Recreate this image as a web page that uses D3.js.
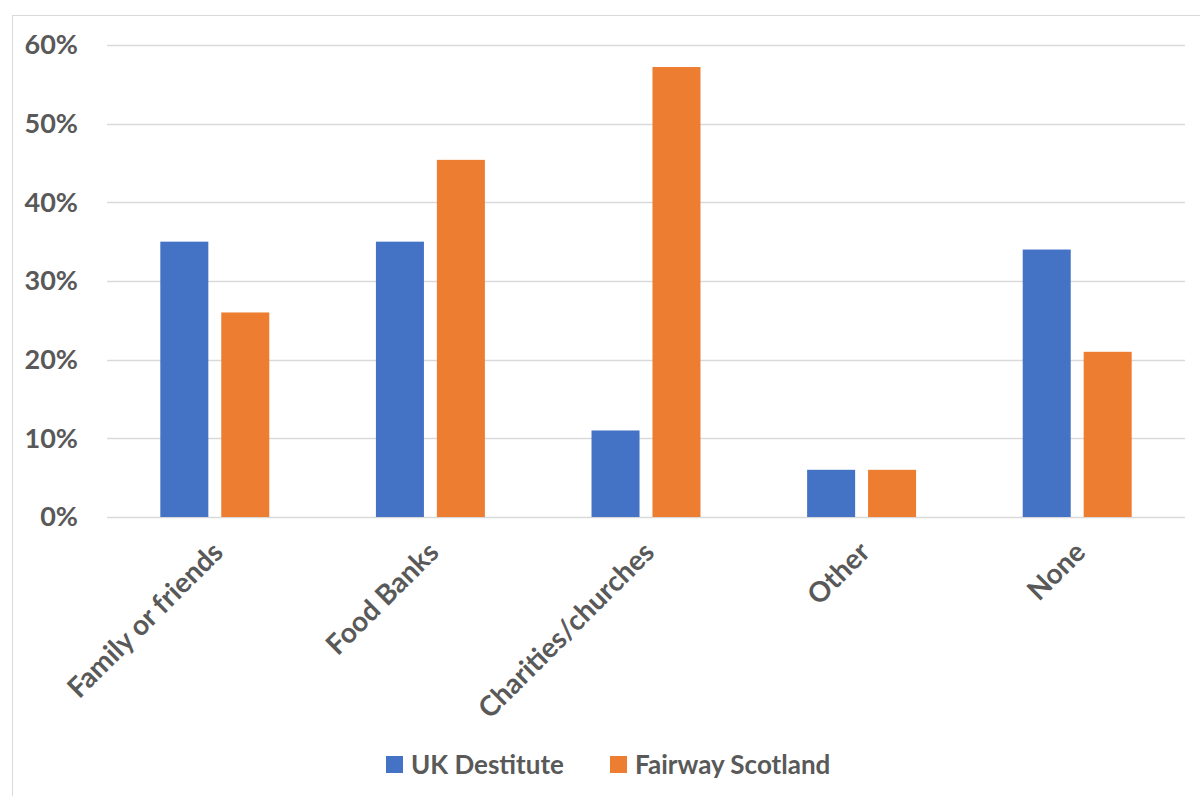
<!DOCTYPE html>
<html><head><meta charset="utf-8">
<script src="https://cdn.jsdelivr.net/npm/d3@7/dist/d3.min.js"></script>
<style>body{margin:0;background:#fff;}svg{display:block;}</style>
</head><body>
<script>
const categories = ["Family or friends", "Food Banks", "Charities/churches", "Other", "None"];
const seriesNames = ["UK Destitute", "Fairway Scotland"];
const ukDestitute = [0.35, 0.35, 0.11, 0.06, 0.34];
const fairwayScotland = [0.26, 0.454, 0.572, 0.06, 0.21];
const yTicks = [0, 0.1, 0.2, 0.3, 0.4, 0.5, 0.6];
const colors = ["#4472C4", "#ED7D31"];

const W = 1200, H = 796;
const font = "Lato, 'Open Sans', sans-serif";
const textColor = "#595959";
const svg = d3.select("body").append("svg").attr("width", W).attr("height", H);
svg.append("rect").attr("x", 0).attr("y", 0).attr("width", W).attr("height", H).attr("fill", "#fff");
// chart border
svg.append("rect").attr("x", 12.5).attr("y", 15.5).attr("width", 1200).attr("height", 800)
  .attr("fill", "none").attr("stroke", "#d9d9d9").attr("stroke-width", 1);

const plot = {left: 107, right: 1185, top: 45, bottom: 517};
const x = d3.scaleBand().domain(categories).range([plot.left, plot.right]).paddingInner(0).paddingOuter(0);
const y = d3.scaleLinear().domain([0, 0.6]).range([plot.bottom, plot.top]);
const bw = x.bandwidth();
const barW = bw * 0.2227, gap = bw * 0.06;
const xs = d3.scaleBand().domain(seriesNames).range([0, barW * 2 + gap]).paddingInner(gap / (barW + gap)).paddingOuter(0);
const groupOffset = (bw - (barW * 2 + gap)) / 2;

// gridlines
svg.append("g").selectAll("line").data(yTicks).join("line")
  .attr("x1", plot.left).attr("x2", plot.right)
  .attr("y1", d => Math.round(y(d)) + 0.5).attr("y2", d => Math.round(y(d)) + 0.5)
  .attr("stroke", "#d9d9d9").attr("stroke-width", 1.5);

// y labels
svg.append("g").selectAll("text").data(yTicks).join("text")
  .attr("x", 78).attr("y", d => y(d)).attr("dy", "0.35em")
  .attr("text-anchor", "end").attr("font-family", font).attr("font-weight", 700)
  .attr("font-size", 27).attr("fill", textColor)
  .text(d => d3.format(".0%")(d));

const data = [ukDestitute, fairwayScotland];
data.forEach((vals, si) => {
  svg.append("g").selectAll("rect").data(vals).join("rect")
    .attr("x", (d, i) => x(categories[i]) + groupOffset + xs(seriesNames[si]))
    .attr("width", xs.bandwidth())
    .attr("y", d => y(d)).attr("height", d => y(0) - y(d))
    .attr("fill", colors[si]);
});

// category labels
svg.append("g").selectAll("text").data(categories).join("text")
  .attr("transform", d => `translate(${x(d) + bw / 2 + 3},${plot.bottom + 30}) rotate(-45)`)
  .attr("text-anchor", "end").attr("font-family", font).attr("font-weight", 700)
  .attr("font-size", 28).attr("fill", textColor).attr("dy", "0.35em")
  .text(d => d);

// legend
const legX = [386, 610];
const lg = svg.append("g");
seriesNames.forEach((s, i) => {
  lg.append("rect").attr("x", legX[i]).attr("y", 756).attr("width", 17).attr("height", 17).attr("fill", colors[i]);
  lg.append("text").attr("x", legX[i] + 25).attr("y", 764.5).attr("dy", "0.35em")
    .attr("font-family", font).attr("font-weight", 700).attr("font-size", 26).attr("fill", textColor).text(s);
});
</script>
</body></html>
